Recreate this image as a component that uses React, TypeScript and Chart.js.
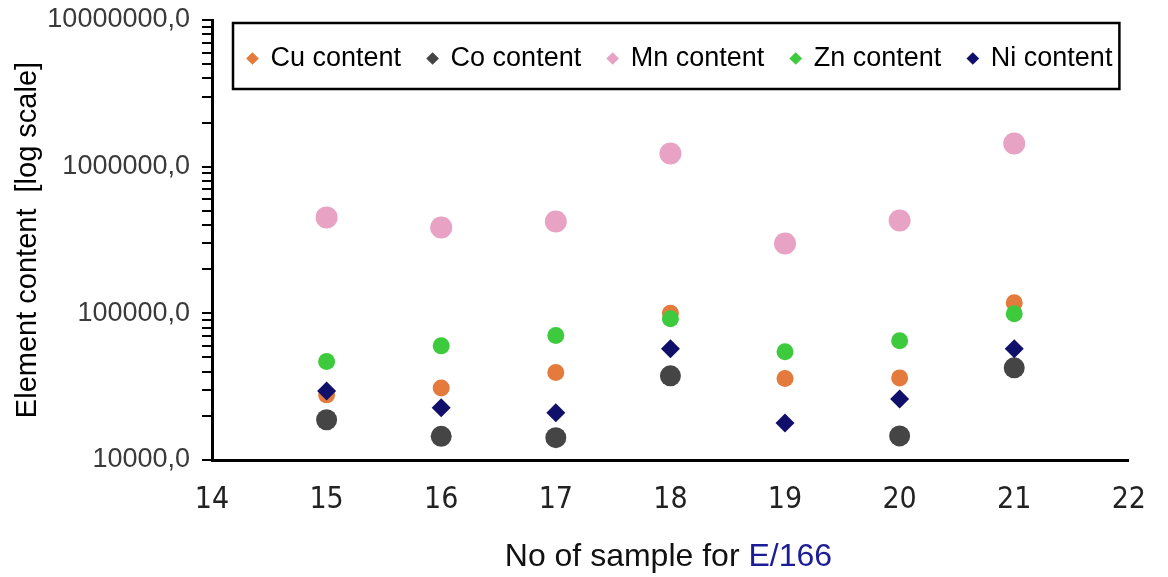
import { useEffect, useRef } from 'react';
import { Chart, registerables } from 'chart.js';

Chart.register(...registerables);

// ---- data ----
const samples = [15, 16, 17, 18, 19, 20, 21];
const cuContent = [27800, 31000, 39500, 100000, 36000, 36300, 118000];
const coContent: (number | null)[] = [18800, 14500, 14200, 37500, null, 14600, 42500];
const mnContent = [451000, 385000, 423000, 1230000, 299000, 430000, 1440000];
const znContent = [47000, 60000, 70500, 92000, 54700, 65000, 99500];
const niContent = [29600, 22700, 21000, 57400, 17900, 26100, 57400];

const seriesNames = ['Cu content', 'Co content', 'Mn content', 'Zn content', 'Ni content'];

const xMin = 14;
const xMax = 22;
const yDecades = [10000, 100000, 1000000, 10000000];
const yDecadeLabels = ['10000,0', '100000,0', '1000000,0', '10000000,0'];
const yMinorMultipliers = [2, 3, 4, 5, 6, 7, 8, 9];
const yTitle = 'Element content  [log scale]';
const xTitleParts = ['No of sample for ', 'E/166'];

const yTickValues: number[] = [];
yDecades.forEach((d, i) => {
  yTickValues.push(d);
  if (i < yDecades.length - 1) yMinorMultipliers.forEach((m) => yTickValues.push(d * m));
});

const toPoints = (vals: (number | null)[]) =>
  samples
    .map((x, i) => ({ x, y: vals[i] }))
    .filter((p) => p.y !== null) as { x: number; y: number }[];

const SANS = "'Liberation Sans', Arial, sans-serif";
const NARROW = "'Liberation Sans Narrow', 'Arial Narrow', 'DejaVu Sans Condensed', sans-serif";

const decorPlugin = {
  id: 'decor',
  beforeUpdate(chart: any) {
    // lay the in-plot legend out as one horizontal row
    const lg = chart.legend;
    if (lg && !lg.__rowPatched) {
      const proto = Object.getPrototypeOf(lg);
      lg.isHorizontal = () => true;
      lg.update = function (_w: number, h: number, m: any) {
        return proto.update.call(this, 3000, h, m);
      };
      lg.__rowPatched = true;
    }
  },
  afterLayout(chart: any) {
    const lg = chart.legend;
    const a = chart.chartArea;
    if (lg && a) {
      lg.left = a.left + 9;
      lg.right = a.right + 2000;
      lg.width = lg.right - lg.left;
      lg.top = a.top - 2;
    }
  },
  afterDraw(chart: any) {
    const ctx = chart.ctx as CanvasRenderingContext2D;
    const lg = chart.legend;
    if (lg && lg.legendHitBoxes && lg.legendHitBoxes.length) {
      const hb = lg.legendHitBoxes;
      const first = hb[0];
      const last = hb[hb.length - 1];
      const l = first.left - 15;
      const r = last.left + last.width + 7;
      const t = first.top - 22;
      const b = first.top + first.height + 17;
      ctx.save();
      ctx.strokeStyle = '#000';
      ctx.lineWidth = 2.5;
      ctx.strokeRect(l, t, r - l, b - t);
      ctx.restore();
    }
    // two-colour x-axis title
    const area = chart.chartArea;
    ctx.save();
    ctx.font = `32px ${SANS}`;
    ctx.textBaseline = 'alphabetic';
    ctx.textAlign = 'left';
    const w1 = ctx.measureText(xTitleParts[0]).width;
    const w2 = ctx.measureText(xTitleParts[1]).width;
    const cx = (area.left + area.right) / 2 - 2;
    const x0 = cx - (w1 + w2) / 2;
    const y0 = area.bottom + 106;
    ctx.fillStyle = '#111111';
    ctx.fillText(xTitleParts[0], x0, y0);
    ctx.fillStyle = '#1c1c96';
    ctx.fillText(xTitleParts[1], x0 + w1, y0);
    ctx.restore();
  },
};

export default function App() {
  const ref = useRef<HTMLCanvasElement | null>(null);

  useEffect(() => {
    document.body.style.margin = '0';
    const canvas = ref.current;
    if (!canvas) return;

    const chart = new Chart(canvas, {
      type: 'scatter',
      data: {
        datasets: [
          {
            label: seriesNames[0],
            data: toPoints(cuContent),
            backgroundColor: '#E47A3C',
            borderColor: '#E47A3C',
            borderWidth: 0,
            pointStyle: 'circle',
            pointRadius: 8.5,
            order: 5,
          },
          {
            label: seriesNames[1],
            data: toPoints(coContent),
            backgroundColor: '#454545',
            borderColor: '#454545',
            borderWidth: 0,
            pointStyle: 'circle',
            pointRadius: 10.5,
            order: 4,
          },
          {
            label: seriesNames[2],
            data: toPoints(mnContent),
            backgroundColor: '#E8A2C4',
            borderColor: '#E8A2C4',
            borderWidth: 0,
            pointStyle: 'circle',
            pointRadius: 11,
            order: 3,
          },
          {
            label: seriesNames[3],
            data: toPoints(znContent),
            backgroundColor: '#3DCB3D',
            borderColor: '#3DCB3D',
            borderWidth: 0,
            pointStyle: 'circle',
            pointRadius: 8.5,
            order: 2,
          },
          {
            label: seriesNames[4],
            data: toPoints(niContent),
            backgroundColor: '#10106A',
            borderColor: '#10106A',
            borderWidth: 0,
            pointStyle: 'rectRot',
            pointRadius: 9.5,
            order: 1,
          },
        ],
      },
      options: {
        responsive: false,
        animation: false,
        layout: { padding: { top: 20, right: 33, bottom: 0, left: 0 } },
        plugins: {
          tooltip: { enabled: false },
          legend: {
            position: 'chartArea',
            align: 'start',
            labels: {
              usePointStyle: true,
              pointStyle: 'rectRot',
              boxWidth: 9,
              boxHeight: 9,
              padding: 27,
              color: '#000',
              font: { family: SANS, size: 27 },
              sort: (a: any, b: any) => a.datasetIndex - b.datasetIndex,
            },
          },
        },
        scales: {
          x: {
            type: 'linear',
            min: xMin,
            max: xMax,
            ticks: {
              stepSize: 1,
              color: '#222',
              font: { family: NARROW, size: 30 },
              padding: 22,
            },
            grid: { display: false, drawTicks: false },
            border: { display: true, color: '#000', width: 3 },
            afterFit: (s: any) => {
              s.height = 117;
            },
          },
          y: {
            type: 'logarithmic',
            min: yDecades[0],
            max: yDecades[yDecades.length - 1],
            afterBuildTicks: (s: any) => {
              s.ticks = yTickValues.map((v) => ({ value: v, major: yDecades.includes(v) }));
            },
            ticks: {
              autoSkip: false,
              color: '#3a3a3a',
              font: { family: SANS, size: 27, lineHeight: 0.5 },
              padding: 12,
              callback: (v: any) => {
                const i = yDecades.indexOf(Number(v));
                return i >= 0 ? yDecadeLabels[i] : '';
              },
            },
            grid: {
              display: true,
              drawOnChartArea: false,
              drawTicks: true,
              tickLength: 10,
              color: '#000',
              lineWidth: 2,
            },
            border: { display: true, color: '#000', width: 3 },
            title: {
              display: true,
              text: yTitle,
              color: '#000',
              font: { family: SANS, size: 29 },
              padding: { top: 11, bottom: 0 },
            },
            afterFit: (s: any) => {
              s.width = 212;
            },
          },
        },
      },
      plugins: [decorPlugin],
    } as any);

    return () => chart.destroy();
  }, []);

  return (
    <div style={{ position: 'absolute', left: 0, top: 0, width: 1168, height: 577, background: '#fff' }}>
      <canvas ref={ref} width={1168} height={577} style={{ display: 'block' }} />
    </div>
  );
}
